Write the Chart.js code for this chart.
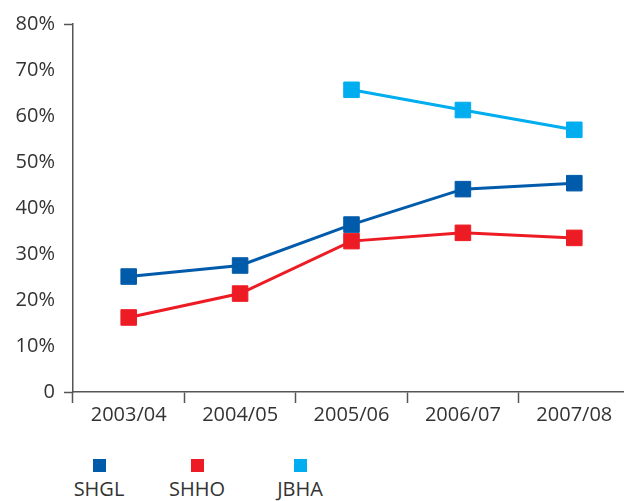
<!DOCTYPE html>
<html>
<head>
<meta charset="utf-8">
<script src="https://cdn.jsdelivr.net/npm/chart.js@4"></script>
<style>
  html, body { margin: 0; padding: 0; background: #fff; overflow: hidden; width: 624px; height: 501px; }
  #wrap { position: absolute; left: 0; top: 0; width: 642px; height: 431px; }
  .key { position: absolute; font-family: "Open Sans", sans-serif; font-size: 20px; color: #333; }
  .sw { position: absolute; width: 13px; height: 13px; }
  .lbl { position: absolute; width: 100px; text-align: center; line-height: 20px; }
</style>
</head>
<body>
<div id="wrap"><canvas id="c" width="642" height="431"></canvas></div>
<div id="legend"></div>
<script>
// Survey years and the share recorded for each organisation
const years = ['2003/04', '2004/05', '2005/06', '2006/07', '2007/08'];
const shgl = [25.1, 27.5, 36.4, 44.1, 45.4];
const shho = [16.2, 21.4, 32.8, 34.6, 33.5];
const jbha = [null, null, 65.7, 61.3, 57.0];
const yTicks = [0, 10, 20, 30, 40, 50, 60, 70, 80];

const seriesNames = ['SHGL', 'SHHO', 'JBHA'];
const seriesColors = ['#005BAA', '#ED1C24', '#00AEEF'];
const seriesData = [shgl, shho, jbha];

const axisColor = '#555';
const textColor = '#333';
const font = { family: '"Open Sans", sans-serif', size: 20 };

const datasets = seriesNames.map((name, i) => ({
  label: name,
  data: seriesData[i],
  borderColor: seriesColors[i],
  backgroundColor: seriesColors[i],
  borderWidth: 3,
  pointStyle: 'rect',
  pointRadius: 11,
  pointBorderWidth: 1,
  pointBackgroundColor: seriesColors[i],
  pointBorderColor: seriesColors[i],
  tension: 0,
  spanGaps: false
}));

new Chart(document.getElementById('c'), {
  type: 'line',
  data: { labels: years, datasets },
  options: {
    responsive: false,
    animation: false,
    devicePixelRatio: 1,
    layout: { padding: { top: 24, right: 0, bottom: 0, left: 0 } },
    plugins: { legend: { display: false }, tooltip: { enabled: false } },
    scales: {
      x: {
        type: 'category',
        offset: true,
        grid: {
          offset: true,
          drawOnChartArea: false,
          drawTicks: true,
          tickLength: 11,
          tickColor: axisColor,
          tickWidth: 1.5
        },
        border: { display: true, color: axisColor, width: 1.5 },
        ticks: { color: textColor, font, padding: 0, maxRotation: 0 },
        afterFit: (s) => { s.height = 39; }
      },
      y: {
        min: 0,
        max: 80,
        afterBuildTicks: (s) => { s.ticks = yTicks.map(v => ({ value: v })); },
        grid: {
          drawOnChartArea: false,
          drawTicks: true,
          tickLength: 9,
          tickWidth: 1.5,
          tickColor: (ctx) => (ctx.tick && (ctx.tick.value === 0 || ctx.tick.value === 80)) ? axisColor : 'rgba(0,0,0,0)'
        },
        border: { display: true, color: axisColor, width: 1.5 },
        ticks: {
          color: textColor,
          font,
          padding: 9,
          callback: (v) => v === 0 ? '0' : v + '%'
        },
        afterFit: (s) => { s.width = 73; }
      }
    }
  }
});

// Key below the plot: swatch above each series name
const legendX = [99, 197, 300];
const legend = document.getElementById('legend');
seriesNames.forEach((name, i) => {
  const sw = document.createElement('div');
  sw.className = 'sw';
  sw.style.background = seriesColors[i];
  sw.style.left = (legendX[i] - 6.5) + 'px';
  sw.style.top = (465 - 6.5) + 'px';
  legend.appendChild(sw);
  const lb = document.createElement('div');
  lb.className = 'key lbl';
  lb.textContent = name;
  lb.style.left = (legendX[i] - 50) + 'px';
  lb.style.top = (490 - 11) + 'px';
  legend.appendChild(lb);
});
</script>
</body>
</html>
